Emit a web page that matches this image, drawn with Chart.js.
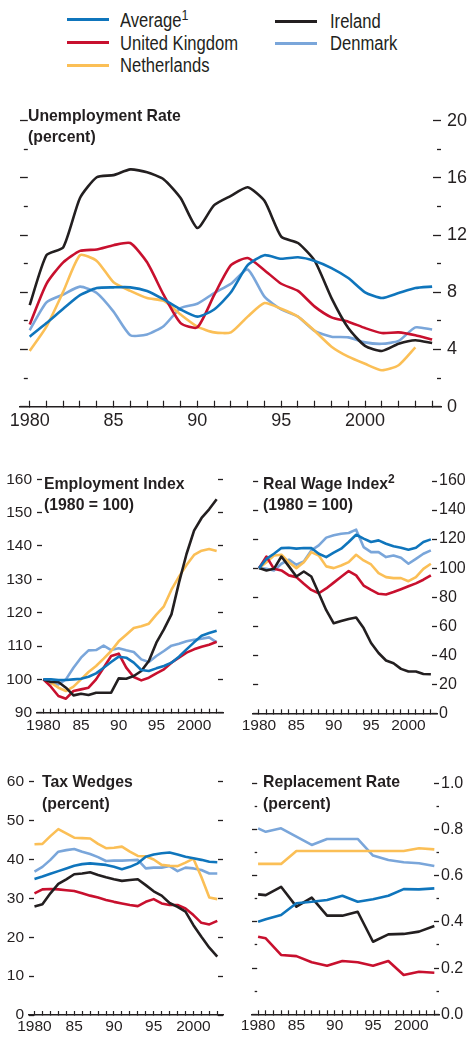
<!DOCTYPE html>
<html>
<head>
<meta charset="utf-8">
<title>Unemployment, employment, wages, tax wedges and replacement rates</title>
<script src="https://cdn.jsdelivr.net/npm/chart.js@4.4.1/dist/chart.umd.min.js"></script>
<style>
  body { margin: 0; background: #fff; }
  #page { position: relative; width: 468px; height: 1038px; overflow: hidden;
    font-family: 'Liberation Sans', Arial, sans-serif; color: #231f20; }
  canvas { position: absolute; }
  .key { position: absolute; height: 3px; width: 42px; }
  .lab { position: absolute; font-size: 20px; line-height: 20px; white-space: nowrap;
    transform: scaleX(0.83); transform-origin: left top; }
  .ttl { position: absolute; font-size: 17px; font-weight: bold; line-height: 21.5px; white-space: nowrap;
    transform: scaleX(0.93); transform-origin: left top; }
  sup { font-size: 15px; line-height: 0; vertical-align: 7px; font-weight: normal; }
  .ttl sup { font-weight: bold; font-size: 13px; vertical-align: 6px; }
</style>
</head>
<body>
<div id="page">
  <div class="key" style="left:67px;top:18px;background:#0f75bc"></div>
  <div class="lab" style="left:120px;top:10px">Average<sup>1</sup></div>
  <div class="key" style="left:67px;top:41px;background:#c8102e"></div>
  <div class="lab" style="left:120px;top:33px">United Kingdom</div>
  <div class="key" style="left:67px;top:64px;background:#fbbf56"></div>
  <div class="lab" style="left:120px;top:55px">Netherlands</div>
  <div class="key" style="left:275px;top:20px;background:#231f20"></div>
  <div class="lab" style="left:330px;top:11px">Ireland</div>
  <div class="key" style="left:275px;top:42px;background:#7aa6da"></div>
  <div class="lab" style="left:330px;top:33px">Denmark</div>

  <canvas id="unemp"></canvas>
  <canvas id="employ"></canvas>
  <canvas id="wage"></canvas>
  <canvas id="tax"></canvas>
  <canvas id="repl"></canvas>

  <div class="ttl" style="left:28px;top:104.5px">Unemployment Rate<br>(percent)</div>
  <div class="ttl" style="left:44px;top:472.5px">Employment Index<br>(1980 = 100)</div>
  <div class="ttl" style="left:263px;top:472.5px">Real Wage Index<sup>2</sup><br>(1980 = 100)</div>
  <div class="ttl" style="left:42px;top:770.5px;line-height:22px">Tax Wedges<br>(percent)</div>
  <div class="ttl" style="left:263px;top:770.5px;line-height:22px">Replacement Rate<br>(percent)</div>
</div>
<script>
// ---- data ----
var unempYears = [1980,1981,1982,1983,1984,1985,1986,1987,1988,1989,1990,1991,1992,1993,1994,1995,1996,1997,1998,1999,2000,2001,2002,2003,2004];
var unempAverage = [4.9,5.85,6.85,7.8,8.3,8.35,8.35,8.1,7.5,6.8,6.3,6.8,8.0,9.9,10.6,10.35,10.45,10.2,9.7,9.0,8.0,7.6,7.95,8.3,8.4];
var unempUK = [5.75,8.6,10.1,10.9,11.0,11.3,11.45,10.1,7.8,5.85,5.55,7.8,9.9,10.4,9.55,8.6,8.1,7.0,6.25,5.95,5.5,5.15,5.2,5.0,4.7];
var unempNL = [3.9,5.6,8.05,10.6,10.2,8.7,8.1,7.6,7.4,6.45,5.6,5.2,5.2,6.3,7.25,6.85,6.3,5.3,4.2,3.5,3.0,2.55,2.9,4.15,null];
var unempIE = [7.1,10.6,11.15,14.6,16.05,16.2,16.6,16.4,15.9,14.6,12.5,14.1,14.75,15.35,14.4,11.9,11.45,10.2,7.6,5.5,4.25,3.9,4.4,4.65,4.45];
var unempDK = [5.35,7.3,7.85,8.4,7.95,6.65,5.0,5.05,5.65,6.9,7.2,7.95,8.6,9.6,7.7,6.8,6.3,5.3,4.9,4.85,4.5,4.4,4.6,5.55,5.4];

var years = [1980,1981,1982,1983,1984,1985,1986,1987,1988,1989,1990,1991,1992,1993,1994,1995,1996,1997,1998,1999,2000,2001,2002,2003];
var empAverage = [100,100,99.8,99.8,100,100.2,100.8,101.8,103.5,105.2,106.8,106.5,105,102.8,102.5,103.3,104,105,106.8,109,111.1,113.1,113.9,114.6];
var empUK = [100,97.8,95,94.2,96.5,97,97.5,100,103.5,107,107.7,103.5,100.7,99.7,100.5,101.8,103,105,106.5,108,109,109.8,110.4,111.3];
var empNL = [100,99,97.5,96.5,97.8,100,102.2,104,106.2,108.5,111.4,113.4,115.4,115.9,116.7,119.4,121.9,126.9,130.8,134.3,137.3,138.6,139.1,138.5];
var empIE = [100,99.2,99.2,97.5,95.2,95.7,95.3,96,96,96,100.3,100.2,101,102.5,105.5,111,115,119.5,129,137.6,144.6,148.4,151,154];
var empDK = [100,98.8,98.5,100,103.5,106.5,108.7,108.8,110.1,108.8,109.3,108.7,108.2,106,105.2,107,108.5,110.1,110.7,111.4,111.9,112.2,112.6,111.1];

var wageAverage = [100,106.4,109.9,113.8,114,113.4,113.8,113.8,109.9,107.6,110.6,113.4,118,123,120.3,118,119.1,116.8,115,114,112.7,114,118,119.8];
var wageUK = [100,108,99.5,98.4,95,93.8,89.2,85,82.7,86,90,94,98,95,88,85,82.3,81.8,83.5,85.5,87.5,89.5,92,95];
var wageNL = [100,104,108.7,109.2,104.1,100,104.1,111,108.7,101.2,100,101.8,104.1,109.2,105.3,102.5,96.5,93.8,93.1,93.1,91,93.8,99.5,103];
var wageIE = [100,98.4,99.5,108,101.2,94.2,97.7,94.2,82.7,71,62,63.5,64.9,66,58.7,48.4,41.5,36.4,34.5,30.6,28.8,28.8,27.1,26.9];
var wageDK = [100,99.5,98.4,103,105.8,102.3,104.6,112.2,115.7,121,122.6,123.7,124.2,126.5,114.5,111,111,107.6,108.7,107.1,103,106.4,109.9,112.2];

var taxAverage = [35,35.6,36.3,37,37.7,38.4,38.8,39,38.8,38.6,38.1,37.5,38.1,39,40.7,41.3,41.6,41.8,41.3,40.7,40.3,39.9,39.4,39.3];
var taxUK = [31.3,32.3,32.4,32.3,32.1,31.9,31.3,30.7,30.2,29.6,29.1,28.7,28.3,28,29.1,29.8,28.7,28.3,28.3,27.4,25.7,23.7,23.3,24.2];
var taxNL = [43.9,44,46,47.8,46.7,45.6,45.5,45.4,44,42.9,43,43.3,42,40.9,40.8,40,38.6,38.4,38.3,39.2,40.2,35.5,30.2,29.8];
var taxIE = [27.9,28.5,31.3,33.7,34.9,36.2,36.4,36.7,36,35.4,34.9,34.5,34.7,34.9,33.4,31.8,30.7,28.8,27.8,26.6,23.1,20.1,17.3,15];
var taxDK = [36.9,38.1,39.9,42,42.4,42.7,42,41.4,40.6,39.6,39.7,39.7,39.8,39.9,37.7,37.9,37.9,38.3,37,37.9,37.7,37.3,36.4,36.4];

var replYears = [1980,1981,1983,1985,1987,1989,1991,1993,1995,1997,1999,2001,2003];
var replAverage = [0.401,0.411,0.43,0.481,0.487,0.495,0.513,0.487,0.498,0.513,0.542,0.541,0.545];
var replUK = [0.336,0.329,0.257,0.252,0.225,0.21,0.231,0.225,0.21,0.231,0.17,0.184,0.18];
var replNL = [0.651,0.651,0.651,0.707,0.707,0.707,0.707,0.707,0.707,0.707,0.707,0.719,0.714];
var replIE = [0.519,0.516,0.552,0.466,0.505,0.427,0.427,0.444,0.314,0.346,0.348,0.358,0.382];
var replDK = [0.805,0.79,0.805,0.769,0.733,0.759,0.759,0.759,0.687,0.668,0.658,0.654,0.642];

// ---- drawing ----
var INK = '#231f20';
var BLUE = '#0f75bc', RED = '#c8102e', YELLOW = '#fbbf56', BLACK = '#231f20', LIGHT = '#7aa6da';
Chart.defaults.font.family = "'Liberation Sans', Arial, sans-serif";
Chart.defaults.color = INK;

function near(v, step) {
  return Math.abs(v / step - Math.round(v / step)) < 1e-6;
}

function yearLabel(v) {
  if (v === 1980 || v === 2000) return String(v);
  if (v % 5 === 0) return String(v).slice(2);
  return '';
}

// box = canvas rect on the page, area = wanted plot area on the page
function panel(id, box, area, xr, yr, labels, series, tension) {
  var cv = document.getElementById(id);
  cv.style.left = box.x + 'px';
  cv.style.top = box.y + 'px';
  cv.width = box.w;
  cv.height = box.h;
  var leftW = area.l - box.x, rightW = box.x + box.w - area.r;
  var bottomH = box.y + box.h - area.b, topPad = area.t - box.y;

  function yAxis(pos) {
    var showLabels = yr.labelSide === pos;
    return {
      type: 'linear', position: pos, min: yr.min, max: yr.max,
      afterFit: function(s) { s.width = pos === 'left' ? leftW : rightW; },
      border: { display: false },
      grid: {
        drawOnChartArea: false, tickLength: -yr.tick, tickColor: INK, tickWidth: 1.3,
        tickBorderDash: function(c) { return near(c.tick.value, yr.major) ? [] : [yr.tick / 2, 40]; }
      },
      ticks: {
        stepSize: yr.step, padding: yr.pad, color: INK, font: { size: yr.font },
        callback: function(v) { return showLabels && near(v, yr.major) ? yr.fmt(v) : ''; }
      }
    };
  }

  var ds = series.map(function(s) {
    return {
      data: s.data, borderColor: s.color, borderWidth: 2.6, pointRadius: 0,
      tension: tension, fill: false, spanGaps: true, yAxisID: 'yR',
      borderCapStyle: 'butt', borderJoinStyle: 'round'
    };
  });

  return new Chart(cv, {
    type: 'line',
    data: { labels: labels, datasets: ds },
    options: {
      responsive: false, animation: false, events: [],
      layout: { padding: { top: topPad, left: 0, right: 0, bottom: 0 } },
      plugins: { legend: { display: false }, tooltip: { enabled: false } },
      scales: {
        x: {
          type: 'linear', position: 'bottom', min: xr.min, max: xr.max,
          afterFit: function(s) { s.height = bottomH; },
          border: { display: true, color: INK, width: 1.5 },
          grid: { drawOnChartArea: false, tickLength: -xr.tick, tickColor: INK, tickWidth: 1.2 },
          ticks: {
            stepSize: 1, autoSkip: false, maxRotation: 0, includeBounds: false,
            padding: xr.pad, color: INK, font: { size: xr.font }, callback: yearLabel
          }
        },
        yL: yAxis('left'),
        yR: yAxis('right')
      }
    }
  });
}

function fmtInt(v) { return String(Math.round(v)); }

// first series in each list is drawn on top
panel('unemp', { x: 0, y: 96, w: 468, h: 344 }, { l: 16, r: 441, t: 116.7, b: 406.7 },
  { min: 1979.41, max: 2004.53, tick: 6, pad: 9.3, font: 18 },
  { min: 0, max: 20, step: 2, major: 4, tick: 8, pad: 14, font: 18, labelSide: 'right', fmt: fmtInt },
  unempYears,
  [{ data: unempAverage, color: BLUE }, { data: unempIE, color: BLACK }, { data: unempUK, color: RED },
   { data: unempNL, color: YELLOW }, { data: unempDK, color: LIGHT }], 0.2);

panel('employ', { x: 0, y: 460, w: 234, h: 280 }, { l: 37, r: 223, t: 478.5, b: 712.7 },
  { min: 1979.16, max: 2003.84, tick: 4, pad: 7.9, font: 15.5 },
  { min: 90, max: 160, step: 5, major: 10, tick: 5, pad: 10, font: 15.5, labelSide: 'left', fmt: fmtInt },
  years,
  [{ data: empAverage, color: BLUE }, { data: empIE, color: BLACK }, { data: empUK, color: RED },
   { data: empNL, color: YELLOW }, { data: empDK, color: LIGHT }], 0);

panel('wage', { x: 234, y: 460, w: 234, h: 280 }, { l: 248, r: 437, t: 481, b: 713.3 },
  { min: 1979.22, max: 2003.82, tick: 4, pad: 7.3, font: 15.5 },
  { min: 0, max: 160, step: 10, major: 20, tick: 5, pad: 7, font: 16, labelSide: 'right', fmt: fmtInt },
  years,
  [{ data: wageAverage, color: BLUE }, { data: wageIE, color: BLACK }, { data: wageUK, color: RED },
   { data: wageNL, color: YELLOW }, { data: wageDK, color: LIGHT }], 0);

panel('tax', { x: 0, y: 762, w: 234, h: 276 }, { l: 29, r: 223, t: 781.7, b: 1015 },
  { min: 1979.31, max: 2003.72, tick: 4, pad: 6.4, font: 15.5 },
  { min: 0, max: 60, step: 5, major: 10, tick: 5, pad: 10, font: 15.5, labelSide: 'left', fmt: fmtInt },
  years,
  [{ data: taxAverage, color: BLUE }, { data: taxIE, color: BLACK }, { data: taxUK, color: RED },
   { data: taxNL, color: YELLOW }, { data: taxDK, color: LIGHT }], 0);

panel('repl', { x: 234, y: 762, w: 234, h: 276 }, { l: 248, r: 439, t: 783.3, b: 1014.3 },
  { min: 1979.23, max: 2003.61, tick: 4, pad: 6.4, font: 15.5 },
  { min: 0, max: 1, step: 0.1, major: 0.2, tick: 5, pad: 7, font: 16, labelSide: 'right',
    fmt: function(v) { return v.toFixed(1); } },
  replYears,
  [{ data: replAverage, color: BLUE }, { data: replIE, color: BLACK }, { data: replUK, color: RED },
   { data: replNL, color: YELLOW }, { data: replDK, color: LIGHT }], 0);
</script>
</body>
</html>
